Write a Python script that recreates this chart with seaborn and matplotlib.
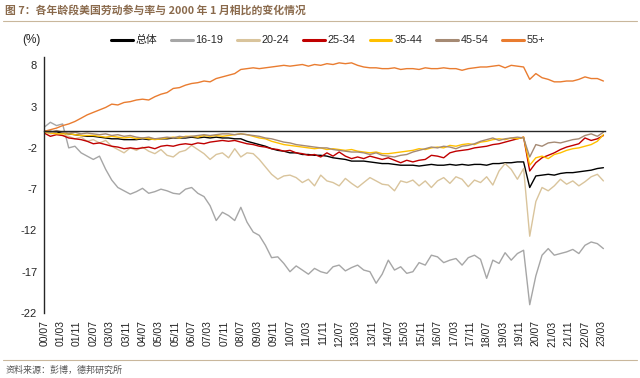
import pandas as pd
import seaborn as sns
import matplotlib.pyplot as plt
from matplotlib.lines import Line2D

# quarterly readings from the chart, 2000/07 .. 2023/04
dates = pd.date_range("2000-07-01", periods=92, freq="3MS")

total = [0.0, 0.0, -0.1, -0.2, -0.3, -0.4, -0.5, -0.6, -0.6, -0.7, -0.8, -0.9,
         -0.9, -1.0, -1.0, -1.0, -0.9, -1.0, -0.9, -0.9, -0.9, -0.8, -0.8, -0.8,
         -0.7, -0.8, -0.7, -0.8, -0.7, -0.8, -0.8, -0.9, -0.9, -1.2, -1.4, -1.6,
         -1.8, -2.1, -2.3, -2.4, -2.6, -2.6, -2.8, -2.8, -2.9, -2.9, -3.0, -3.2,
         -3.3, -3.4, -3.6, -3.6, -3.6, -3.7, -3.8, -3.9, -3.9, -4.0, -4.1, -4.1,
         -4.1, -4.2, -4.1, -4.0, -4.1, -4.1, -4.0, -4.1, -4.0, -4.1, -4.0, -4.0,
         -4.1, -3.9, -3.9, -3.8, -3.8, -3.7, -3.7, -6.8, -5.4, -5.3, -5.2, -5.3,
         -5.1, -5.0, -5.0, -4.9, -4.8, -4.7, -4.5, -4.4]

age_16_19 = [0.5, 1.1, 0.7, 0.9, -2.0, -1.8, -2.6, -3.0, -3.4, -3.0, -4.6, -5.9,
             -6.8, -7.2, -7.6, -7.3, -6.9, -7.5, -7.3, -7.0, -7.2, -7.5, -7.6, -7.0,
             -6.8, -7.5, -7.9, -9.0, -10.8, -9.8, -10.2, -10.8, -9.2, -11.0, -12.2, -12.6,
             -13.8, -15.3, -15.2, -16.0, -17.0, -16.3, -16.8, -17.3, -16.6, -17.0, -17.2, -16.4,
             -16.2, -16.9, -16.5, -16.2, -16.8, -17.0, -18.4, -17.3, -15.6, -16.8, -16.4, -17.2,
             -17.0, -15.9, -16.2, -15.0, -15.2, -15.9, -15.6, -15.4, -16.2, -15.3, -15.0, -15.5,
             -17.8, -15.6, -16.0, -14.7, -15.6, -14.8, -14.4, -21.0, -17.5, -15.0, -14.2, -15.0,
             -14.8, -14.6, -14.3, -14.8, -13.8, -13.4, -13.6, -14.2]

age_20_24 = [0.0, -0.3, -0.2, -0.5, -0.6, -0.9, -0.7, -1.2, -1.0, -1.4, -1.1, -1.8,
             -2.2, -2.6, -2.0, -2.3, -1.9, -2.4, -2.7, -2.2, -2.9, -3.1, -2.5, -2.3,
             -1.7, -2.2, -2.7, -3.4, -2.8, -2.6, -3.2, -2.1, -3.1, -2.6, -2.7, -3.4,
             -4.3, -5.2, -5.8, -5.4, -5.3, -5.6, -6.2, -5.8, -6.6, -5.3, -6.0, -6.2,
             -6.6, -5.7, -6.3, -6.8, -6.2, -5.6, -6.0, -6.4, -6.5, -7.2, -6.0, -6.2,
             -5.9, -6.6, -6.0, -6.8, -6.0, -5.6, -6.3, -5.5, -5.8, -6.7, -5.9, -6.2,
             -5.5, -6.5, -4.8, -3.9, -4.6, -5.8, -4.5, -12.7, -8.5, -6.8, -7.2, -6.6,
             -5.8, -6.4, -6.0, -6.6, -6.1, -5.5, -5.2, -6.0]

age_25_34 = [-0.2, -0.6, -0.4, -0.5, -0.8, -0.9, -1.0, -1.2, -1.5, -1.4, -1.6, -1.8,
             -1.9, -2.1, -2.0, -2.1, -2.0, -1.9, -2.1, -1.8, -1.7, -1.8, -1.6, -1.5,
             -1.6, -1.4, -1.5, -1.3, -1.2, -1.1, -1.2, -1.1, -1.3, -1.5, -1.6, -1.8,
             -1.9, -2.1, -2.2, -2.4, -2.3, -2.6, -2.7, -2.9, -2.8, -3.1, -2.6, -3.0,
             -2.5, -3.0, -3.3, -3.1, -3.3, -3.0, -3.2, -3.4, -3.2, -3.5, -3.8, -3.5,
             -3.7, -3.5, -3.4, -2.9, -3.0, -3.2, -2.6, -2.4, -2.3, -2.2, -2.0, -1.9,
             -1.8, -1.6, -1.5, -1.3, -1.1, -0.9, -0.7, -4.8, -3.8, -3.2, -2.9, -2.6,
             -2.2, -1.9, -1.7, -1.5, -0.8, -1.1, -0.9, -0.5]

age_35_44 = [-0.1, -0.2, -0.3, -0.3, -0.3, -0.4, -0.5, -0.5, -0.5, -0.6, -0.7, -0.6,
             -0.7, -0.8, -0.7, -0.9, -0.8, -0.9, -1.0, -0.9, -0.8, -0.7, -0.8, -0.6,
             -0.6, -0.7, -0.5, -0.6, -0.5, -0.6, -0.5, -0.4, -0.3, -0.4, -0.6, -0.8,
             -0.9, -1.2, -1.4, -1.6, -1.7, -1.8, -1.9, -2.0, -2.1, -2.0, -2.2, -2.1,
             -2.2, -2.3, -2.2, -2.4, -2.5, -2.6, -2.5, -2.7, -2.7, -2.6, -2.5, -2.4,
             -2.3, -2.1, -2.2, -2.0, -1.9, -2.0, -1.7, -1.8, -1.6, -1.5, -1.6, -1.3,
             -1.2, -1.0, -0.9, -1.0, -0.8, -0.9, -0.7, -4.1, -3.2, -3.0, -3.3, -2.8,
             -2.6, -2.3, -2.1, -2.0, -1.8, -1.6, -1.2, -0.4]

age_45_54 = [0.0, -0.1, 0.1, -0.1, -0.2, -0.1, -0.3, -0.2, -0.3, -0.4, -0.3, -0.5,
             -0.4, -0.6, -0.5, -0.7, -0.8, -0.7, -0.9, -0.8, -0.7, -0.8, -0.6, -0.7,
             -0.6, -0.5, -0.4, -0.5, -0.4, -0.3, -0.3, -0.4, -0.3, -0.4, -0.5, -0.6,
             -0.8, -0.9, -1.1, -1.3, -1.4, -1.6, -1.7, -1.8, -1.9, -2.0, -2.0, -2.2,
             -2.3, -2.4, -2.5, -2.5, -2.6, -2.8, -2.6, -2.9, -3.0, -3.1, -2.9, -2.8,
             -2.5, -2.3, -2.1, -1.9, -2.0, -1.8, -1.9, -2.1, -1.8, -1.7, -1.5, -1.2,
             -1.0, -0.8, -1.1, -0.9, -0.8, -0.7, -0.8, -3.1, -1.6, -1.8, -1.4, -1.3,
             -1.4, -1.2, -1.0, -0.9, -0.5, -0.3, -0.6, -0.1]

age_55_plus = [0.0, 0.2, 0.4, 0.7, 0.9, 1.2, 1.6, 2.0, 2.3, 2.6, 2.9, 3.3,
               3.2, 3.5, 3.6, 3.8, 3.9, 3.8, 4.2, 4.5, 4.7, 5.2, 5.3, 5.6,
               5.8, 5.9, 6.1, 6.0, 6.4, 6.6, 6.8, 7.0, 7.5, 7.6, 7.7, 7.6,
               7.7, 7.8, 7.9, 8.0, 7.9, 8.0, 8.1, 7.9, 8.1, 8.0, 8.2, 8.1,
               8.3, 8.2, 8.3, 8.0, 7.8, 7.7, 7.7, 7.6, 7.6, 7.7, 7.5, 7.6,
               7.6, 7.5, 7.7, 7.6, 7.6, 7.7, 7.6, 7.6, 7.4, 7.6, 7.7, 7.8,
               7.8, 7.9, 8.0, 7.7, 8.0, 7.9, 7.8, 6.3, 7.0, 6.5, 6.3, 6.0,
               6.0, 6.1, 6.1, 6.3, 6.6, 6.4, 6.4, 6.1]

series_names = ["总体", "16-19", "20-24", "25-34", "35-44", "45-54", "55+"]
colors = ["#000000", "#a6a6a6", "#d9c49c", "#c00000", "#ffc000", "#a58a74", "#e97c30"]

tick_dates = pd.date_range("2000-07-01", "2023-03-01", freq="8MS")
tick_labels = ["00/07", "01/03", "01/11", "02/07", "03/03", "03/11", "04/07",
               "05/03", "05/11", "06/07", "07/03", "07/11", "08/07", "09/03",
               "09/11", "10/07", "11/03", "11/11", "12/07", "13/03", "13/11",
               "14/07", "15/03", "15/11", "16/07", "17/03", "17/11", "18/07",
               "19/03", "19/11", "20/07", "21/03", "21/11", "22/07", "23/03"]

values = [total, age_16_19, age_20_24, age_25_34, age_35_44, age_45_54, age_55_plus]
df = pd.concat([pd.DataFrame({"date": dates, "value": v, "group": n})
                for n, v in zip(series_names, values)])

sns.set_style("white")
plt.rcParams['font.family'] = ['Liberation Sans', 'Noto Sans CJK SC']
plt.rcParams['axes.unicode_minus'] = False

fig = plt.figure(figsize=(6.4, 3.78), dpi=100)
ax = fig.add_axes([0.069, 0.172, 0.877, 0.677])

palette = dict(zip(series_names, colors))
sns.lineplot(data=df, x="date", y="value", hue="group", palette=palette,
             linewidth=1.0, ax=ax, legend=False)

ax.set_ylim(-22, 9)
ax.set_xlim(dates[0], dates[-1] + pd.DateOffset(months=1))
ax.set_yticks([8, 3, -2, -7, -12, -17, -22])
ax.tick_params(axis="y", labelsize=8, length=3, direction="out", width=0.8, pad=2)
ax.set_xlabel("")
ax.set_ylabel("")

# x axis sits on zero, ticks point upward; labels stay at the bottom
ax.spines["right"].set_visible(False)
ax.spines["top"].set_visible(False)
ax.spines["bottom"].set_position(("data", 0))
ax.spines["left"].set_linewidth(1.0)
ax.spines["bottom"].set_linewidth(1.0)
ax.set_xticks(tick_dates)
ax.set_xticklabels([])
ax.tick_params(axis="x", direction="in", length=3, width=0.8)
for d, lab in zip(tick_dates, tick_labels):
    ax.text(d, -22.9, lab, rotation=90, ha="center", va="top", fontsize=7.5,
            color="#222222", transform=ax.transData)

fig.text(0.034, 0.885, "(%)", fontsize=8.5, color="#222222")

handles = [Line2D([], [], color=c, lw=2.2) for c in colors]
fig.legend(handles, series_names, loc="center left", bbox_to_anchor=(0.158, 0.893),
           ncol=7, frameon=False, fontsize=7.8, handlelength=2.0,
           handletextpad=0.25, columnspacing=1.3)

# header and footer
fig.text(0.008, 0.972, "图 7：各年龄段美国劳动参与率与 2000 年 1 月相比的变化情况",
         fontsize=7.8, fontweight="bold", color="#8a6a4c", va="center",
         family=['Noto Sans CJK SC'])
fig.add_artist(Line2D([0.005, 0.995], [0.945, 0.945], color="#c9b79c", lw=0.8))
fig.add_artist(Line2D([0.005, 0.995], [0.048, 0.048], color="#c9b79c", lw=0.8))
fig.text(0.008, 0.02, "资料来源：彭博，德邦研究所", fontsize=6.5, color="#555555",
         va="center", family=['Noto Sans CJK SC'])

fig.savefig("out.png", dpi=100, facecolor="white")
